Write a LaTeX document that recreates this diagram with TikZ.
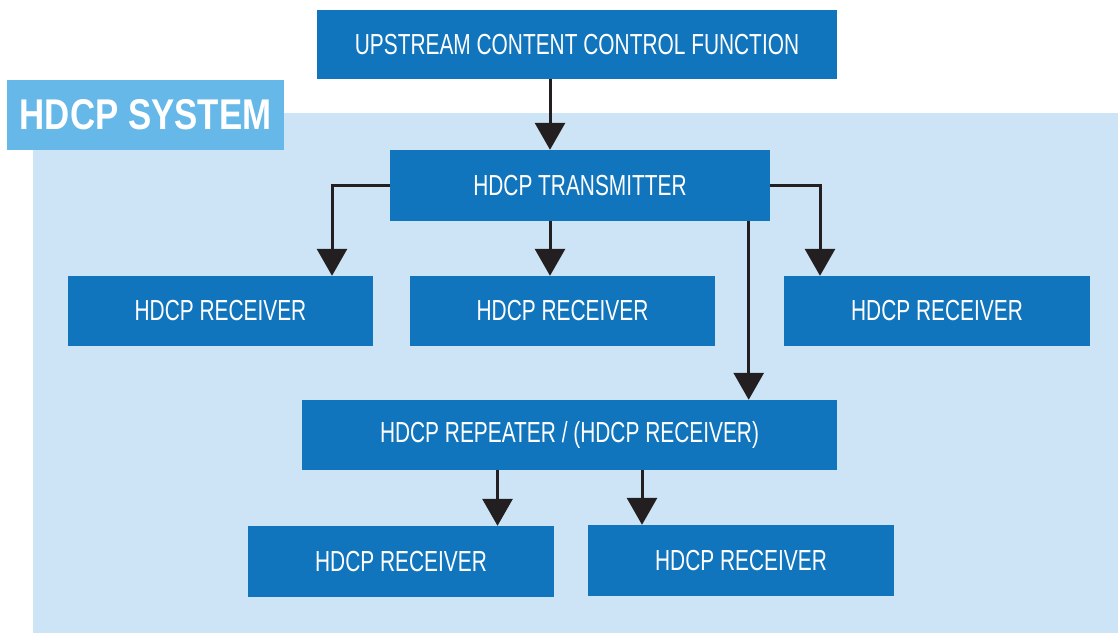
\documentclass[tikz,border=0pt]{standalone}
\usepackage{fontspec}
\newfontfamily\condfont[FakeStretch=0.72]{Liberation Sans}
\newfontfamily\condbold[FakeStretch=0.81]{Liberation Sans Bold}
\usetikzlibrary{arrows.meta}
\definecolor{boxblue}{HTML}{1075BD}
\definecolor{bglight}{HTML}{CCE4F6}
\definecolor{labelblue}{HTML}{66B8E8}
\definecolor{arrowdark}{HTML}{231F20}
\begin{document}
\begin{tikzpicture}[x=1pt,y=-1pt,
  blk/.style={fill=boxblue, text=white, inner sep=0pt, minimum height=70pt,
    font=\condfont\fontsize{29}{29}\selectfont},
  conn/.style={draw=arrowdark, line width=3pt,
    -{Triangle[width=30pt,length=27pt]}, arrowdark},
  syslabel/.style={fill=labelblue, text=white, inner sep=0pt,
    minimum width=277pt, minimum height=70pt,
    font=\condbold\fontsize{43}{43}\selectfont}]
\useasboundingbox (0,0) rectangle (1118,633);
\fill[bglight] (33,113) rectangle (1118,633);
\node[syslabel] (lbl) at (145.5,115) {HDCP SYSTEM};
\node[blk, minimum width=520pt, minimum height=69pt] (top) at (577,44.5) {UPSTREAM CONTENT CONTROL FUNCTION};
\node[blk, minimum width=380pt, minimum height=71pt] (tx) at (580,185.5) {HDCP TRANSMITTER};
\node[blk, minimum width=305pt] (r1) at (220.5,311) {HDCP RECEIVER};
\node[blk, minimum width=305pt] (r2) at (562.5,311) {HDCP RECEIVER};
\node[blk, minimum width=306pt] (r3) at (937,311) {HDCP RECEIVER};
\node[blk, minimum width=535pt] (rep) at (569.5,435) {HDCP REPEATER / (HDCP RECEIVER)};
\node[blk, minimum width=306pt, minimum height=71pt] (b1) at (401,561.5) {HDCP RECEIVER};
\node[blk, minimum width=306pt, minimum height=71pt] (b2) at (741,560.5) {HDCP RECEIVER};
\draw[conn] ([xshift=-27pt]top.south) -- ([xshift=-27pt]top.south |- tx.north);
\draw[conn] (tx.west) -| ([xshift=111.5pt]r1.north);
\draw[conn] ([xshift=-30pt]tx.south) -- ([xshift=-30pt]tx.south |- r2.north);
\draw[conn] (tx.east) -| ([xshift=-117pt]r3.north);
\draw[conn] ([xshift=168.7pt]tx.south) -- ([xshift=168.7pt]tx.south |- rep.north);
\draw[conn] ([xshift=-72pt]rep.south) -- ([xshift=-72pt]rep.south |- b1.north);
\draw[conn] ([xshift=72.5pt]rep.south) -- ([xshift=72.5pt]rep.south |- b2.north);
\end{tikzpicture}
\end{document}
